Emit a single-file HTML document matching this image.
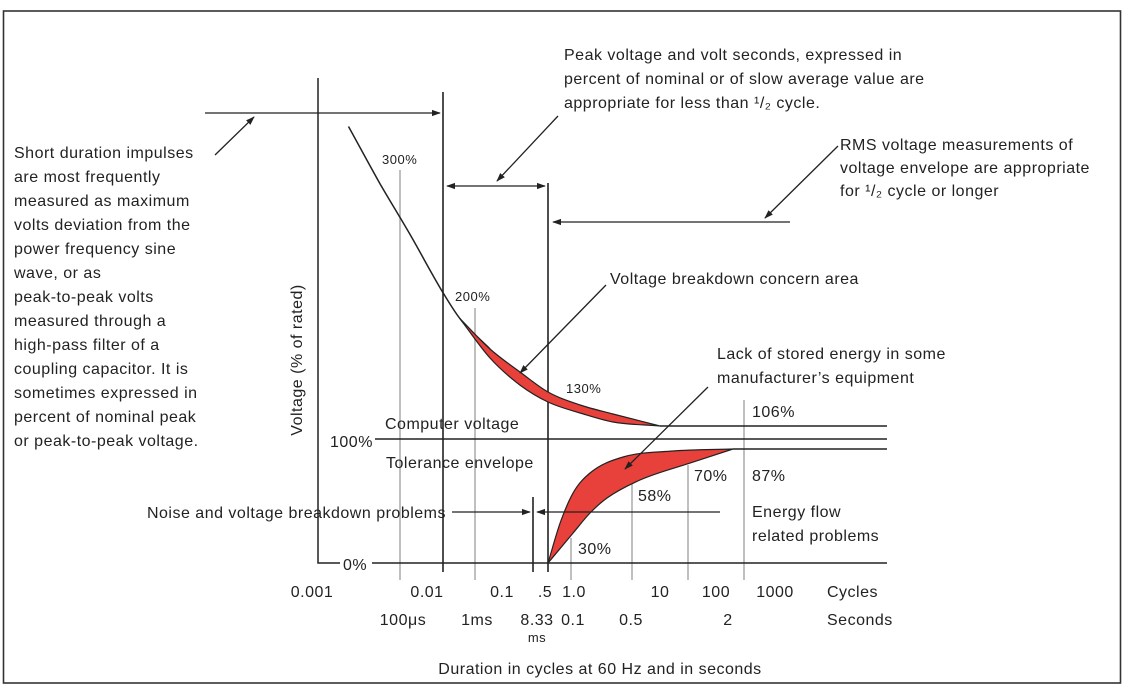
<!DOCTYPE html>
<html><head><meta charset="utf-8">
<style>
html,body{margin:0;padding:0;background:#fff;}
svg{display:block;font-family:"Liberation Sans",sans-serif;}
text{fill:#222;}
.t{font-size:16px;letter-spacing:0.5px;}
.s{font-size:13px;letter-spacing:0.5px;}
</style></head>
<body>
<svg id="chart" width="1126" height="693" viewBox="0 0 1126 693">
<defs>
<marker id="ah" viewBox="0 0 10 10" refX="9" refY="5" markerWidth="9" markerHeight="9" orient="auto-start-reverse" markerUnits="userSpaceOnUse">
<path d="M0,1.5 L10,5 L0,8.5 Z" fill="#222"/></marker>
</defs>
<rect x="3.5" y="11" width="1117" height="672" fill="none" stroke="#333" stroke-width="1.6"/>
<g id="grid"></g>
<g id="curves"></g>
<g id="ann"></g>
</svg>
<script>
// Data (x in cycles at 60 Hz, y in % of rated)
const xTickVals = [0.001, 0.01, 0.1, 0.5, 1, 10, 100, 1000];
const xTickLabels = ["0.001", "0.01", "0.1", ".5", "1.0", "10", "100", "1000"];
const secLabels = ["100μs", "1ms", "8.33", "0.1", "0.5", "2"];
const overCommon = [[0.0019, 352], [0.0033, 306], [0.0056, 265], [0.01, 218], [0.0192, 197]];
const overUpper = [[0.0192, 197], [0.0607, 172.6], [0.184, 154], [0.5, 137.9], [1.5, 127.4], [3.28, 120.2], [10, 110.5]];
const overLower = [[0.0192, 197], [0.0607, 165.3], [0.184, 143.5], [0.5, 129.8], [1.5, 121], [3.28, 113.7], [10, 110.5]];
const underUpper = [[0.5, 0], [0.871, 32], [1.27, 56.5], [1.9, 72.6], [4.16, 85.5], [16.9, 90.3], [189, 91.9]];
const underLower = [[0.5, 0], [1.27, 24.2], [1.9, 40.3], [2.84, 52.4], [6.22, 66.9], [33.6, 80.6], [189, 91.9]];

// axis functions
const xAnchorPx = [312, 443, 503, 548, 563, 660, 717, 775];
function X(v){
  const lv = Math.log10(v);
  const la = xTickVals.map(Math.log10);
  let i = 0;
  if (lv <= la[0]) i = 0; else if (lv >= la[la.length-1]) i = la.length-2;
  else { while (!(lv >= la[i] && lv <= la[i+1])) i++; }
  return xAnchorPx[i] + (lv - la[i])/(la[i+1]-la[i])*(xAnchorPx[i+1]-xAnchorPx[i]);
}
function Y(p){ return 563 - p*1.24; }

const NS = "http://www.w3.org/2000/svg";
function el(tag, attrs, parent){
  const e = document.createElementNS(NS, tag);
  for (const k in attrs) e.setAttribute(k, attrs[k]);
  parent.appendChild(e); return e;
}
const grid = document.getElementById("grid");
const curves = document.getElementById("curves");
const ann = document.getElementById("ann");

function line(x1,y1,x2,y2,stroke,w,parent,name,arrowS,arrowE){
  const l = el("line",{x1,y1,x2,y2,stroke,"stroke-width":w},parent);
  if(arrowS) l.setAttribute("marker-start","url(#ah)");
  if(arrowE) l.setAttribute("marker-end","url(#ah)");
  
  
  return l;
}
function text(x,y,s,cls,parent,name,anchor){
  const t = el("text",{x,y,"class":cls},parent);
  if(anchor) t.setAttribute("text-anchor",anchor);
  t.textContent = s;
  
  
  return t;
}

[[400,170],[475,308],[571,538],[632,484],[688,465],[744,400]].forEach((g)=>{
  line(g[0],g[1],g[0],580,"#aaa",1.5,grid,"grey-ref-line");
});
const axisPath = el("path",{d:"M318,78 L318,563 L340,563",fill:"none",stroke:"#222","stroke-width":1.5},grid);


line(372,563,887,563,"#222",1.5,grid,"zero-line");
line(443,92,443,572,"#222",1.6,grid,"cycle-0.01-line");
line(548,183,548,572,"#222",1.6,grid,"half-cycle-line");
line(533,497,533,572,"#222",1.6,grid,"noise-boundary-line");
line(X(10),Y(110.5),887,Y(110.5),"#222",1.5,grid,"line-106");
line(375,439,887,439,"#222",1.5,grid,"line-100");
line(X(189),Y(91.9),887,Y(91.9),"#222",1.5,grid,"line-87");

// monotone cubic (Fritsch-Carlson) in pixel space
function monoSegs(pts){
  const P = pts.map(p=>[X(p[0]),Y(p[1])]);
  const n = P.length, d = [], m = [];
  for(let i=0;i<n-1;i++) d.push((P[i+1][1]-P[i][1])/(P[i+1][0]-P[i][0]));
  m[0]=d[0]; m[n-1]=d[n-2];
  for(let i=1;i<n-1;i++) m[i] = (d[i-1]*d[i]<=0)?0:(d[i-1]+d[i])/2;
  for(let i=0;i<n-1;i++){
    if(d[i]===0){m[i]=0;m[i+1]=0;continue;}
    const a=m[i]/d[i], b=m[i+1]/d[i], s=a*a+b*b;
    if(s>9){const t=3/Math.sqrt(s); m[i]=t*a*d[i]; m[i+1]=t*b*d[i];}
  }
  return {P,m};
}
function monoPath(pts, reverse){
  const {P,m} = monoSegs(pts);
  const n=P.length;
  const f=v=>v.toFixed(1);
  if(!reverse){
    let s="M"+f(P[0][0])+","+f(P[0][1]);
    for(let i=0;i<n-1;i++){
      const h=(P[i+1][0]-P[i][0])/3;
      s+=" C"+f(P[i][0]+h)+","+f(P[i][1]+m[i]*h)+" "+f(P[i+1][0]-h)+","+f(P[i+1][1]-m[i+1]*h)+" "+f(P[i+1][0])+","+f(P[i+1][1]);
    }
    return s;
  } else {
    let s="L"+f(P[n-1][0])+","+f(P[n-1][1]);
    for(let i=n-1;i>0;i--){
      const h=(P[i][0]-P[i-1][0])/3;
      s+=" C"+f(P[i][0]-h)+","+f(P[i][1]-m[i]*h)+" "+f(P[i-1][0]+h)+","+f(P[i-1][1]+m[i-1]*h)+" "+f(P[i-1][0])+","+f(P[i-1][1]);
    }
    return s;
  }
}
function region(upper, lower, name){
  const d = monoPath(upper,false) + " " + monoPath(lower,true) + " Z";
  const p = el("path",{d,fill:"#e8403a",stroke:"#222","stroke-width":1.2,"stroke-linejoin":"round"},curves);
  
  
}
const common = el("path",{d:monoPath(overCommon.concat(overUpper.slice(1,2)),false),fill:"none",stroke:"#222","stroke-width":1.5},curves);


region(overUpper, overLower, "voltage-breakdown-area");
region(underUpper, underLower, "stored-energy-area");

const cycLabelX = [312, 427, 502, 545, 574, 660, 716, 775];
xTickLabels.forEach((s,i)=>{ text(cycLabelX[i], 597, s, "t", ann, "x-tick-cycles", "middle"); });
const secX = [403, 477, 537, 573, 631, 728];
secLabels.forEach((s,i)=>{ text(secX[i], 625, s, "t", ann, "x-tick-seconds", "middle"); });
text(537, 642, "ms", "s", ann, "x-tick-seconds-unit", "middle");
text(827, 597, "Cycles", "t", ann, "cycles-label");
text(827, 625, "Seconds", "t", ann, "seconds-label");
text(600, 674, "Duration in cycles at 60 Hz and in seconds", "t", ann, "x-axis-title", "middle");
const yt = text(0,0,"Voltage (% of rated)","t",ann,"y-axis-title","middle");
yt.setAttribute("transform","translate(302,360) rotate(-90)");

text(382,164,"300%","s",ann,"label-300");
text(455,301,"200%","s",ann,"label-200");
text(566,393,"130%","s",ann,"label-130");
text(752,417,"106%","t",ann,"label-106");
text(330,447,"100%","t",ann,"label-100");
text(694,481,"70%","t",ann,"label-70");
text(752,481,"87%","t",ann,"label-87");
text(638,501,"58%","t",ann,"label-58");
text(578,554,"30%","t",ann,"label-30");
text(343,570,"0%","t",ann,"label-0");
text(385,429,"Computer voltage","t",ann,"computer-voltage-label");
text(386,468,"Tolerance envelope","t",ann,"tolerance-envelope-label");
text(752,517,"Energy flow","t",ann,"energy-flow-label");
text(752,541,"related problems","t",ann,"energy-flow-label-2");
text(446,518,"Noise and voltage breakdown problems","t",ann,"noise-label","end");
text(610,284,"Voltage breakdown concern area","t",ann,"breakdown-label");
text(717,359,"Lack of stored energy in some","t",ann,"stored-energy-label");
text(717,383,"manufacturer’s equipment","t",ann,"stored-energy-label-2");

const leftLines=["Short duration impulses","are most frequently","measured as maximum","volts deviation from the","power frequency sine","wave, or as","peak-to-peak volts","measured through a","high-pass filter of a","coupling capacitor. It is","sometimes expressed in","percent of nominal peak","or peak-to-peak voltage."];
leftLines.forEach((s,i)=>text(14,158+i*24,s,"t",ann,"impulse-note-line"));
const topL=["Peak voltage and volt seconds, expressed in","percent of nominal or of slow average value are","appropriate for less than ¹/₂ cycle."];
topL.forEach((s,i)=>text(564,60+i*24,s,"t",ann,"peak-note-line"));
const rmsL=["RMS voltage measurements of","voltage envelope are appropriate","for ¹/₂ cycle or longer"];
rmsL.forEach((s,i)=>text(840,150+i*23,s,"t",ann,"rms-note-line"));

line(205,113,440,113,"#222",1.3,ann,"impulse-arrow",false,true);
line(215,155,254,117,"#222",1.3,ann,"impulse-pointer",false,true);
line(447,186,545,186,"#222",1.3,ann,"half-cycle-span",true,true);
line(558,116,497,181,"#222",1.3,ann,"peak-pointer",false,true);
line(790,222,553,222,"#222",1.3,ann,"rms-arrow",false,true);
line(838,146,765,218,"#222",1.3,ann,"rms-pointer",false,true);
line(606,285,520,373,"#222",1.3,ann,"breakdown-pointer",false,true);
line(708,387,625,469,"#222",1.3,ann,"stored-energy-pointer",false,true);
line(452,512,530,512,"#222",1.3,ann,"noise-arrow",false,true);
line(720,512,537,512,"#222",1.3,ann,"energy-arrow",false,true);
</script>
</body></html>
